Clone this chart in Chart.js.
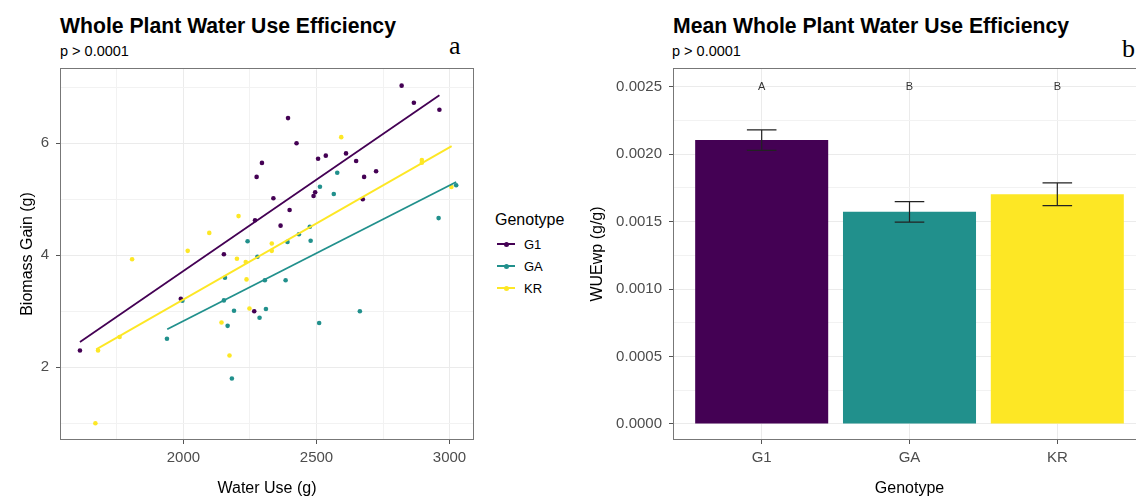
<!DOCTYPE html>
<html>
<head>
<meta charset="utf-8">
<script src="https://cdn.jsdelivr.net/npm/chart.js@4.4.0/dist/chart.umd.min.js"></script>
<style>
  html, body { margin: 0; padding: 0; background: #fff; overflow: hidden; }
  #page { position: relative; width: 1136px; height: 497px; overflow: hidden;
          font-family: 'Liberation Sans', Arial, sans-serif; color: #000; }
  .abs { position: absolute; white-space: nowrap; line-height: 1; }
  .title { font-size: 21.2px; font-weight: bold; top: 14.5px; }
  .subtitle { font-size: 14.5px; top: 44px; }
  .tag { font-family: 'Liberation Serif', 'Times New Roman', serif; font-size: 26px; }
  .legend-row { position: absolute; left: 497px; height: 22px; width: 60px; }
  .legend-row .key { position: absolute; left: 0; top: 10px; width: 18px; height: 2px; }
  .legend-row .dot { position: absolute; left: 6.5px; top: 8.5px; width: 5px; height: 5px; border-radius: 50%; }
  .legend-row .lab { position: absolute; left: 27px; top: 0.8px; font-size: 13px; line-height: 22px; }
</style>
</head>
<body>
<div id="page">
  <div class="abs title" style="left:60px">Whole Plant Water Use Efficiency</div>
  <div class="abs subtitle" style="left:60px">p &gt; 0.0001</div>
  <div class="abs tag" style="left:449px;top:33px">a</div>

  <div class="abs title" style="left:673px">Mean Whole Plant Water Use Efficiency</div>
  <div class="abs subtitle" style="left:672px">p &gt; 0.0001</div>
  <div class="abs tag" style="left:1122px;top:36px">b</div>

  <div class="abs" style="left:495px;top:211.5px;font-size:16px">Genotype</div>
  <div id="legend"></div>

  <canvas id="scatterChart" width="478" height="497" style="position:absolute;left:0;top:0"></canvas>
  <canvas id="barChart" width="566" height="497" style="position:absolute;left:580px;top:0"></canvas>
</div>

<script>
// Genotypes and their colours (viridis)
const genotypes = ['G1', 'GA', 'KR'];
const genoColors = ['#440154', '#21908C', '#FDE725'];

// Water use (g) and biomass gain (g) per plant
const g1Water   = [2820, 2866, 2962, 2393, 2425, 2295, 2275, 2506, 2535, 2611, 2649, 2679,
                   2724, 2495, 2489, 2674, 2338, 2399, 2269, 2365, 2152, 1990, 2266, 1611];
const g1Biomass = [7.03, 6.725, 6.60, 6.45, 6.00, 5.65, 5.40, 5.725, 5.78, 5.82, 5.685, 5.40,
                   5.50, 5.125, 5.06, 5.00, 5.02, 4.81, 4.625, 4.53, 4.02, 3.225, 3.00, 2.30];

const gaWater   = [2578, 2513, 2565, 3025, 2959, 2475, 2434, 2478, 2391, 2241, 2278, 2156,
                   2152, 1996, 2306, 2384, 2190, 2310, 2286, 2166, 2510, 2663, 1938, 2182];
const gaBiomass = [5.475, 5.225, 5.095, 5.25, 4.665, 4.51, 4.375, 4.26, 4.24, 4.25, 3.975, 3.60,
                   3.195, 3.19, 3.555, 3.555, 3.01, 3.04, 2.885, 2.74, 2.79, 3.00, 2.51, 1.80];

const krWater   = [2593, 2896, 2896, 3007, 2207, 2097, 2332, 2332, 2016, 1807, 2201, 2234,
                   2237, 2248, 2143, 2173, 1760, 1679, 1669];
const krBiomass = [6.11, 5.70, 5.655, 5.22, 4.70, 4.40, 4.21, 4.08, 4.08, 3.93, 3.94, 3.88,
                   3.57, 3.05, 2.80, 2.21, 2.54, 2.30, 1.00];

// Linear fit end points
const g1FitWater = [1611, 2962];
const g1FitBiomass = [2.45, 6.86];
const gaFitWater = [1939, 3025];
const gaFitBiomass = [2.68, 5.31];
const krFitWater = [1672, 3008];
const krFitBiomass = [2.32, 5.95];

// Mean WUEwp (g/g) with error bar limits
const wueMean = [0.002105, 0.001574, 0.001703];
const wueLow  = [0.002029, 0.001497, 0.001618];
const wueHigh = [0.002180, 0.001648, 0.001787];
const sigLetters = ['A', 'B', 'B'];
const letterLevel = 0.0025;

// Gridline positions and labelled ticks
const waterTicks = [1750, 2000, 2250, 2500, 2750, 3000];
const waterLabelTicks = [2000, 2500, 3000];
const biomassTicks = [1, 2, 3, 4, 5, 6, 7];
const biomassLabelTicks = [2, 4, 6];
const wueTicks = [0, 0.00025, 0.0005, 0.00075, 0.001, 0.00125, 0.0015, 0.00175, 0.002, 0.00225, 0.0025];
const wueLabelTicks = [0, 0.0005, 0.001, 0.0015, 0.002, 0.0025];
const genoTicks = [1, 2, 3];

const FONT = "'Liberation Sans', Arial, sans-serif";
Chart.defaults.font.family = FONT;

function toPoints(xs, ys) {
    return xs.map((x, i) => ({ x: x, y: ys[i] }));
}

function setTicks(values) {
    return scale => { scale.ticks = values.map(v => ({ value: v })); };
}

// Grid/tick styling helpers: labelled ticks get the darker line + tick mark
function gridFor(labelled) {
    return {
        color: c => (c.tick && labelled.includes(c.tick.value) ? '#ebebeb' : '#f2f2f2'),
        tickLength: 4,
        tickColor: c => (c.tick && labelled.includes(c.tick.value) ? '#555' : 'rgba(0,0,0,0)')
    };
}

// Legend (HTML)
const legendBox = document.getElementById('legend');
genotypes.forEach((g, i) => {
    const row = document.createElement('div');
    row.className = 'legend-row';
    row.style.top = (233 + i * 22.2) + 'px';
    row.innerHTML = '<span class="key" style="background:' + genoColors[i] + '"></span>' +
        '<span class="dot" style="background:' + genoColors[i] + '"></span>' +
        '<span class="lab">' + g + '</span>';
    legendBox.appendChild(row);
});

// Draw the full panel border like ggplot
const panelBox = {
    id: 'panelBox',
    afterDraw(chart) {
        const { ctx, chartArea: a } = chart;
        ctx.save();
        ctx.strokeStyle = '#777';
        ctx.lineWidth = 1;
        ctx.strokeRect(Math.round(a.left) + 0.5, Math.round(a.top) + 0.5,
            Math.round(a.right - a.left) - 1, Math.round(a.bottom - a.top) - 1);
        ctx.restore();
    }
};

// Error bars and letters on the bar chart
const errorBars = {
    id: 'errorBars',
    afterDatasetsDraw(chart) {
        const { ctx, scales: { x, y } } = chart;
        ctx.save();
        ctx.strokeStyle = '#222';
        ctx.lineWidth = 1.2;
        genotypes.forEach((g, i) => {
            const cx = x.getPixelForValue(i + 1);
            const half = x.getPixelForValue(i + 1.1) - cx;
            const yLo = y.getPixelForValue(wueLow[i]);
            const yHi = y.getPixelForValue(wueHigh[i]);
            ctx.beginPath();
            ctx.moveTo(cx - half, yHi); ctx.lineTo(cx + half, yHi);
            ctx.moveTo(cx, yHi); ctx.lineTo(cx, yLo);
            ctx.moveTo(cx - half, yLo); ctx.lineTo(cx + half, yLo);
            ctx.stroke();
        });
        ctx.fillStyle = '#333';
        ctx.font = '11px ' + FONT;
        ctx.textAlign = 'center';
        ctx.textBaseline = 'middle';
        sigLetters.forEach((t, i) => {
            ctx.fillText(t, x.getPixelForValue(i + 1), y.getPixelForValue(letterLevel));
        });
        ctx.restore();
    }
};

const tickFont = { size: 15 };
const axisTitleFont = { size: 16, lineHeight: 1.1 };

// Scatter plot
const fitSets = [
    [g1FitWater, g1FitBiomass], [gaFitWater, gaFitBiomass], [krFitWater, krFitBiomass]
].map((f, i) => ({
    data: toPoints(f[0], f[1]),
    showLine: true,
    borderColor: genoColors[i],
    borderWidth: 1.8,
    pointRadius: 0,
    fill: false
}));

const pointSets = [
    [g1Water, g1Biomass], [gaWater, gaBiomass], [krWater, krBiomass]
].map((p, i) => ({
    data: toPoints(p[0], p[1]),
    backgroundColor: genoColors[i],
    borderWidth: 0,
    pointRadius: 2.3
}));

new Chart(document.getElementById('scatterChart'), {
    type: 'scatter',
    data: { datasets: fitSets.concat(pointSets) },
    options: {
        responsive: false,
        animation: false,
        layout: { padding: { top: 68, right: 1, left: 0, bottom: 0 } },
        plugins: { legend: { display: false }, tooltip: { enabled: false } },
        scales: {
            x: {
                type: 'linear', min: 1536, max: 3092,
                afterBuildTicks: setTicks(waterTicks),
                afterFit: s => { s.height = 57; },
                ticks: {
                    autoSkip: false, maxRotation: 0,
                    padding: 5, color: '#4d4d4d', font: tickFont,
                    callback: v => (waterLabelTicks.includes(v) ? String(v) : '')
                },
                grid: gridFor(waterLabelTicks),
                border: { display: false },
                title: { display: true, text: 'Water Use (g)', color: '#000', font: axisTitleFont,
                         padding: { top: 0, bottom: 0 } }
            },
            y: {
                type: 'linear', min: 0.702, max: 7.345,
                afterBuildTicks: setTicks(biomassTicks),
                afterFit: s => { s.width = 60; },
                ticks: {
                    autoSkip: false,
                    padding: 7, color: '#4d4d4d', font: tickFont,
                    callback: v => (biomassLabelTicks.includes(v) ? String(v) : '')
                },
                grid: gridFor(biomassLabelTicks),
                border: { display: false },
                title: { display: true, text: 'Biomass Gain (g)', color: '#000', font: axisTitleFont,
                         padding: { top: 19, bottom: 0 } }
            }
        }
    },
    plugins: [panelBox]
});

// Bar chart
new Chart(document.getElementById('barChart'), {
    type: 'bar',
    data: {
        datasets: [{
            data: genotypes.map((g, i) => ({ x: i + 1, y: wueMean[i] })),
            backgroundColor: genoColors,
            borderWidth: 0,
            categoryPercentage: 0.9,
            barPercentage: 1.0
        }]
    },
    options: {
        responsive: false,
        animation: false,
        layout: { padding: { top: 68, right: 0, left: 0, bottom: 0 } },
        plugins: { legend: { display: false }, tooltip: { enabled: false } },
        scales: {
            x: {
                type: 'linear', min: 0.4, max: 3.6, offset: false,
                afterBuildTicks: setTicks(genoTicks),
                afterFit: s => { s.height = 57; },
                ticks: {
                    autoSkip: false, maxRotation: 0,
                    padding: 5, color: '#4d4d4d', font: tickFont,
                    callback: v => (genotypes[v - 1] !== undefined ? genotypes[v - 1] : '')
                },
                grid: { offset: false, color: '#ebebeb', tickLength: 4, tickColor: '#555' },
                border: { display: false },
                title: { display: true, text: 'Genotype', color: '#000', font: axisTitleFont,
                         padding: { top: 0, bottom: 0 } }
            },
            y: {
                type: 'linear', min: -0.000119, max: 0.002639, beginAtZero: false,
                afterBuildTicks: setTicks(wueTicks),
                afterFit: s => { s.width = 93; },
                ticks: {
                    autoSkip: false,
                    padding: 7, color: '#4d4d4d', font: tickFont,
                    callback: v => (wueLabelTicks.includes(v) ? v.toFixed(4) : '')
                },
                grid: gridFor(wueLabelTicks),
                border: { display: false },
                title: { display: true, text: 'WUEwp (g/g)', color: '#000', font: axisTitleFont,
                         padding: { top: 9.2, bottom: 0 } }
            }
        }
    },
    plugins: [errorBars, panelBox]
});
</script>
</body>
</html>
